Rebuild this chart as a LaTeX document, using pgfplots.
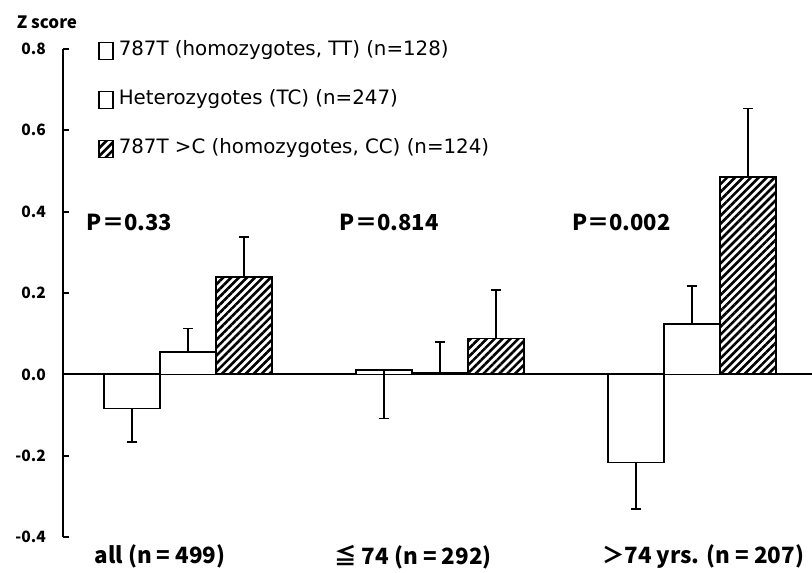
\documentclass[border=0pt]{standalone}
\usepackage{fontspec}
\setmainfont{Noto Sans CJK JP}
\newfontfamily\legfont{DejaVu Sans}
\usepackage{pgfplots}
\pgfplotsset{compat=1.18}
\usetikzlibrary{patterns.meta}

\begin{document}
\begin{tikzpicture}
\begin{axis}[
  name=ax, scale only axis, width=374.5pt, height=244pt,
  xmin=-0.496, xmax=2.476, ymin=-0.4, ymax=0.8,
  ybar=0pt, bar width=0.222, clip=false,
  axis y line*=left, axis x line*=bottom,
  x axis line style={draw=none}, y axis line style={line width=1pt},
  ytick={-0.4,-0.2,0,0.2,0.4,0.6,0.8},
  yticklabels={-0.4,-0.2,0.0,0.2,0.4,0.6,0.8},
  tick align=inside, major tick length=3pt,
  ytick style={line width=1pt, black},
  yticklabel style={font=\bfseries\fontsize{7.8}{8}\selectfont, xshift=-5pt},
  xtick={-0.111,0.893,2.044},
  xticklabels={all (n = 499), ≦ 74 (n = 292), ＞74 yrs. (n = 207)},
  xtick style={draw=none},
  xticklabel style={font=\bfseries\fontsize{11.2}{12}\selectfont, yshift=-0.5pt},
  extra y ticks={0}, extra y tick labels={},
  extra y tick style={grid=major, major tick length=0pt,
    major grid style={line width=1pt, black}},
  error bars/y dir=both, error bars/y explicit,
  error bars/error bar style={line width=0.7pt, black},
  error bars/error mark options={rotate=90, line width=0.8pt, mark size=2.4pt, black},
  legend cell align=left,
  legend image code/.code={\draw[#1, line width=0.7pt] (0pt,-4.25pt) rectangle (7pt,4.25pt);},
  legend style={draw=none, fill=none, at={(rel axis cs:0.0467,1.016)}, anchor=north west,
    inner xsep=0pt, inner ysep=0pt, row sep=15pt, column sep=1.5pt,
    nodes={inner sep=1pt, text height=6pt, text depth=1.5pt},
    font=\legfont\fontsize{9.9}{10}\selectfont},
]
\addplot[draw=black, fill=white, line width=0.8pt] coordinates {
  (0,-0.084) += (0,0) -= (0,0.082)
  (1,0.010) += (0,0) -= (0,0.119)
  (2,-0.217) += (0,0) -= (0,0.114)
};
\addplot[draw=black, fill=white, line width=0.8pt] coordinates {
  (0,0.055) += (0,0.058) -= (0,0)
  (1,0.003) += (0,0.077) -= (0,0)
  (2,0.124) += (0,0.093) -= (0,0)
};
\addplot[draw=black, line width=0.8pt,
  pattern={Lines[angle=45, distance=2.8pt, line width=1.3pt]}] coordinates {
  (0,0.239) += (0,0.098) -= (0,0)
  (1,0.088) += (0,0.119) -= (0,0)
  (2,0.485) += (0,0.169) -= (0,0)
};
\legend{{787T (homozygotes, TT) (n=128)}, {Heterozygotes (TC) (n=247)}, {787T >C (homozygotes, CC) (n=124)}}
\node[anchor=west, font=\bfseries\fontsize{11}{12}\selectfont] at (axis cs:-0.429,0.373) {P＝0.33};
\node[anchor=west, font=\bfseries\fontsize{11}{12}\selectfont] at (axis cs:0.575,0.373) {P＝0.814};
\node[anchor=west, font=\bfseries\fontsize{11}{12}\selectfont] at (axis cs:1.496,0.373) {P＝0.002};
\node[font=\bfseries\fontsize{8.5}{9}\selectfont] at (rel axis cs:-0.0214,1.0553) {Z score};
\end{axis}
\pgfresetboundingbox
\path ([shift={(-31.5pt,-17.5pt)}]ax.south west) rectangle ([shift={(0pt,24.5pt)}]ax.north east);
\end{tikzpicture}
\end{document}
